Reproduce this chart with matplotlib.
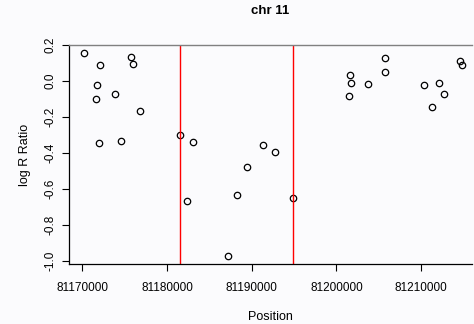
import matplotlib
matplotlib.use("Agg")
import matplotlib.pyplot as plt

plt.rcParams['font.family'] = ['Liberation Sans', 'DejaVu Sans']

positions = [81170165, 81172090, 81171700, 81171580, 81171970, 81173860, 81174570,
             81175790, 81175990, 81176850, 81181570, 81183070, 81182330, 81187170,
             81188230, 81189480, 81191300, 81192750, 81194840, 81201600, 81201720,
             81201450, 81203740, 81205770, 81205770, 81210340, 81211320, 81212080,
             81212670, 81214560, 81214790]
log_r = [0.156, 0.089, -0.024, -0.098, -0.346, -0.070, -0.335,
         0.135, 0.096, -0.167, -0.298, -0.337, -0.668, -0.974,
         -0.635, -0.478, -0.354, -0.396, -0.652, 0.033, -0.011,
         -0.083, -0.019, 0.126, 0.050, -0.022, -0.146, -0.009,
         -0.072, 0.113, 0.091]
boundaries = [81181570, 81194876]
xticks = [81170000, 81180000, 81190000, 81200000, 81210000]
yticks = [0.2, 0.0, -0.2, -0.4, -0.6, -0.8, -1.0]

fig = plt.figure(figsize=(4.74, 3.24), dpi=100)
bg = '#fbfbfd'
fig.patch.set_facecolor(bg)
ax = fig.add_axes([69/474, 1-264.3/324, (472-69)/474, (264.3-44.7)/324])
ax.set_facecolor(bg)

ax.plot(positions, log_r, linestyle='none', marker='o', markersize=4.6,
        markerfacecolor='none', markeredgecolor='black', markeredgewidth=0.9)
for b in boundaries:
    ax.axvline(b, color='red', linewidth=1.0)

ax.set_xlim(81168430, 81216010)
ax.set_ylim(-1.018, 0.2017)
ax.set_xticks(xticks)
ax.set_xticklabels([str(v) for v in xticks])
ax.set_yticks(yticks)
ax.set_yticklabels([f"{v:.1f}" for v in yticks], rotation=90, va='center')

ax.tick_params(axis='both', labelsize=8.5, length=5, width=0.8, direction='out')
ax.tick_params(axis='x', pad=7.5)
ax.tick_params(axis='y', pad=4)
ax.spines['right'].set_visible(False)
ax.spines['top'].set_color('#808080')
ax.spines['top'].set_linewidth(1.0)
for s in ['left', 'bottom']:
    ax.spines[s].set_linewidth(0.9)

ax.set_xlabel('Position', fontsize=9, labelpad=12.5)
ax.set_ylabel('log R Ratio', fontsize=9, labelpad=10)
ax.set_title('chr 11', fontsize=9.5, fontweight='bold', pad=22)

fig.savefig('out.png', dpi=100, facecolor=bg)
